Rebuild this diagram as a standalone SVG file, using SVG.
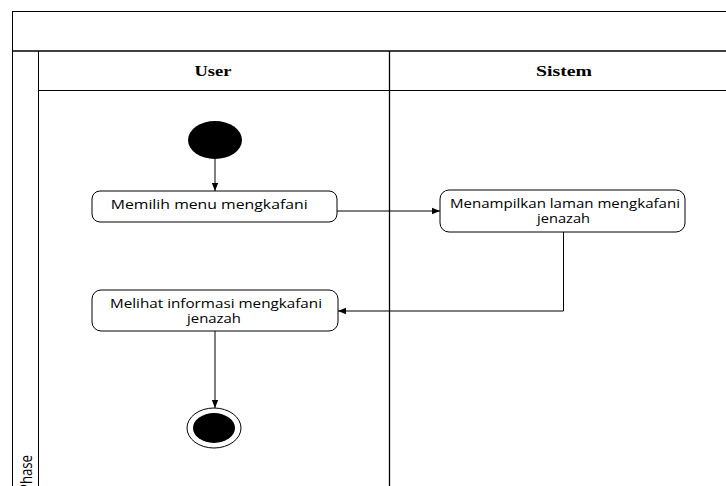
<svg xmlns="http://www.w3.org/2000/svg" width="726" height="486" viewBox="0 0 726 486">
<defs>
<style>
.ln{stroke:#000;stroke-width:1;fill:none}
.node{fill:#fff;stroke:#000;stroke-width:1}
.t{font-family:"Open Sans","Noto Sans",sans-serif;font-size:12.5px;fill:#000}
.h{font-family:"Liberation Serif","Times New Roman",serif;font-size:15px;font-weight:bold;fill:#000}
.c{stroke:#000;stroke-width:1;fill:none}
</style>
<marker id="arr" viewBox="0 0 8 8" refX="8" refY="4" markerWidth="8" markerHeight="8" markerUnits="userSpaceOnUse" orient="auto">
<path d="M0,0.8 L8,4 L0,7.2 Z" fill="#000"/>
</marker>
</defs>
<rect width="726" height="486" fill="#fff"/>
<g id="swimlanes">
<line class="ln" x1="12.5" y1="11.5" x2="726" y2="11.5"/>
<line class="ln" x1="12.5" y1="11" x2="12.5" y2="486"/>
<line class="ln" x1="12.5" y1="51" x2="726" y2="51" style="stroke-width:1.5"/>
<line class="ln" x1="38.5" y1="51" x2="38.5" y2="486"/>
<line class="ln" x1="38.5" y1="90.5" x2="726" y2="90.5"/>
<line class="ln" x1="389.5" y1="51" x2="389.5" y2="486" style="stroke-width:1.3"/>
<text class="h" x="194.5" y="76" textLength="37" lengthAdjust="spacingAndGlyphs">User</text>
<text class="h" x="536" y="76" textLength="56" lengthAdjust="spacingAndGlyphs">Sistem</text>
<text class="t" transform="translate(31.5,492) rotate(-90) scale(1,1.35)" x="0" y="0" textLength="37" lengthAdjust="spacingAndGlyphs">Phase</text>
</g>
<g id="connectors">
<line class="c" x1="215" y1="159" x2="215" y2="191" marker-end="url(#arr)"/>
<line class="c" x1="337" y1="211" x2="440" y2="211" marker-end="url(#arr)"/>
<polyline class="c" points="563.5,232 563.5,311 338,311" marker-end="url(#arr)"/>
<line class="c" x1="215" y1="331" x2="215" y2="408" marker-end="url(#arr)"/>
</g>
<g id="start">
<ellipse cx="215" cy="140" rx="27" ry="19" fill="#000"/>
</g>
<g id="node1">
<rect class="node" x="92" y="191" width="245" height="31" rx="8"/>
<text class="t" x="110.7" y="209" textLength="197" lengthAdjust="spacingAndGlyphs">Memilih menu mengkafani</text>
</g>
<g id="node2">
<rect class="node" x="440" y="190" width="245" height="42" rx="9"/>
<text class="t" x="450" y="207.5" textLength="230" lengthAdjust="spacingAndGlyphs">Menampilkan laman mengkafani</text>
<text class="t" x="537" y="223" textLength="53" lengthAdjust="spacingAndGlyphs">jenazah</text>
</g>
<g id="node3">
<rect class="node" x="92" y="290" width="246" height="41" rx="9"/>
<text class="t" x="110" y="307.5" textLength="212" lengthAdjust="spacingAndGlyphs">Melihat informasi mengkafani</text>
<text class="t" x="187" y="323" textLength="54" lengthAdjust="spacingAndGlyphs">jenazah</text>
</g>
<g id="end">
<ellipse cx="214" cy="428" rx="27" ry="20" fill="#fff" stroke="#000" stroke-width="1"/>
<ellipse cx="214" cy="428" rx="21" ry="15" fill="#000"/>
</g>
</svg>
